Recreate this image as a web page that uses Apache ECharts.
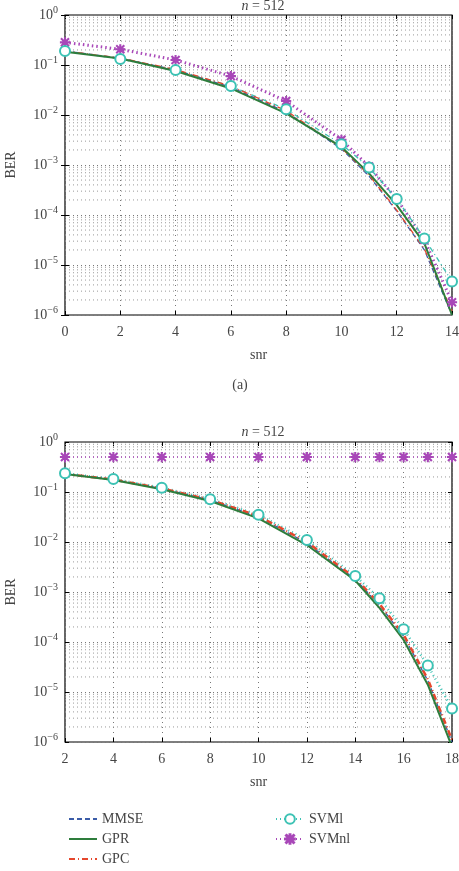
<!DOCTYPE html>
<html>
<head>
<meta charset="utf-8">
<script src="https://cdn.jsdelivr.net/npm/echarts@6/dist/echarts.min.js"></script>
<style>
  html, body { margin: 0; padding: 0; background: #fff; }
  #chart { width: 459px; height: 871px; }
</style>
</head>
<body>
<div id="chart"></div>
<script>
// chart (a): snr 0..14
var snrA = [0, 2, 4, 6, 8, 10, 11, 12, 13, 14];
var mmseA = [0.19, 0.137, 0.079, 0.036, 0.0115, 0.0021, 0.0006, 0.00012, 2.0e-5, 1.0e-6];
var gprA = [0.185, 0.135, 0.076, 0.034, 0.0108, 0.0023, 0.00068, 0.000158, 2.7e-5, 1.0e-6];
var gpcA = [0.19, 0.138, 0.081, 0.038, 0.0122, 0.0022, 0.00063, 0.000125, 2.1e-5, 1.2e-6];
var svmlA = [0.19, 0.132, 0.079, 0.038, 0.013, 0.0026, 0.00089, 0.00021, 3.4e-5, 4.7e-6];
var svmnlA = [0.284, 0.206, 0.126, 0.060, 0.019, 0.0032, 0.00093, 0.00021, 3.2e-5, 1.8e-6];

// chart (b): snr 2..18
var snrB = [2, 4, 6, 8, 10, 12, 14, 15, 16, 17, 18];
var mmseB = [0.23, 0.177, 0.117, 0.069, 0.032, 0.0095, 0.0018, 0.00055, 0.00013, 1.7e-5, 1.0e-6];
var gprB = [0.23, 0.174, 0.113, 0.066, 0.0297, 0.0087, 0.0017, 0.00048, 0.00011, 1.4e-5, 8e-7];
var gpcB = [0.23, 0.178, 0.118, 0.070, 0.033, 0.0100, 0.0019, 0.00058, 0.00014, 1.8e-5, 1.1e-6];
var svmlB = [0.236, 0.182, 0.122, 0.072, 0.035, 0.011, 0.0021, 0.00075, 0.00018, 3.4e-5, 4.7e-6];
var svmnlB = [0.5, 0.5, 0.5, 0.5, 0.5, 0.5, 0.5, 0.5, 0.5, 0.5, 0.5];

var titleText = '{i|n} = 512';
var legendLeft = ['MMSE', 'GPR', 'GPC'];
var legendRight = ['SVMl', 'SVMnl'];

var FONT = 'Liberation Serif';
var TXT = '#444';
var C_MMSE = '#3b5ca8', C_GPR = '#2e7d3c', C_GPC = '#e5472d', C_SVML = '#3cc2b4', C_SVMNL = '#a847b8';
var STAR = 'path://M9,0h2v20h-2zM0,9h20v2h-20zM2.7,1.3L18.7,17.3L17.3,18.7L1.3,2.7zM17.3,1.3L18.7,2.7L2.7,18.7L1.3,17.3z';

function zip(xs, ys) {
    return xs.map(function (x, i) { return [x, ys[i]]; });
}

function supLabel(v) {
    var e = Math.round(Math.log10(v));
    return '10{s|' + (e < 0 ? '\u2212' + (-e) : e) + '}';
}

// minor log grid (2..9 x 10^k), drawn as broken horizontal segments
function minorData(xmin, xmax) {
    var out = [];
    for (var k = -6; k < 0; k++) {
        for (var m = 2; m <= 9; m++) {
            var v = m * Math.pow(10, k);
            out.push([xmin, v], [xmax, v], [xmax, '-']);
        }
    }
    return out;
}

function xAxisFor(g, min, max, pos) {
    var bottom = pos === 'bottom';
    return {
        type: 'value', gridIndex: g, min: min, max: max, interval: 2, position: pos,
        name: bottom ? 'snr' : '', nameLocation: 'middle', nameGap: 33,
        nameTextStyle: {fontFamily: FONT, fontSize: 14, color: TXT},
        axisLine: {show: false},
        axisTick: {show: true, inside: true, length: 4, lineStyle: {color: '#000'}},
        axisLabel: {show: bottom, margin: 10, fontFamily: FONT, fontSize: 14, color: TXT},
        splitLine: {show: bottom, lineStyle: {color: '#777', type: [1, 4], width: 1}}
    };
}

function yAxisFor(g, pos) {
    var left = pos === 'left';
    return {
        type: 'log', logBase: 10, gridIndex: g, min: 1e-6, max: 1, position: pos,
        name: left ? 'BER' : '', nameLocation: 'middle', nameGap: 47,
        nameTextStyle: {fontFamily: FONT, fontSize: 14, color: TXT},
        axisLine: {show: false},
        axisTick: {show: true, inside: true, length: 4, lineStyle: {color: '#000'}},
        axisLabel: {
            show: left, margin: 7, fontFamily: FONT, fontSize: 14, color: TXT,
            formatter: supLabel,
            rich: {s: {fontFamily: FONT, fontSize: 10, color: TXT, padding: [0, 0, 9, 0]}}
        },
        splitLine: {show: left, lineStyle: {color: '#777', type: [1, 3], width: 1}}
    };
}

function minorSeries(g, xmin, xmax) {
    return {
        name: 'minor' + g, type: 'line', xAxisIndex: g * 2, yAxisIndex: g * 2,
        data: minorData(xmin, xmax), connectNulls: false,
        symbol: 'none', silent: true, animation: false, z: 1,
        lineStyle: {color: '#999', type: [1, 3], width: 1}
    };
}

function lineSeries(name, g, xs, ys, color, width, dash, symbol, size) {
    return {
        name: name, type: 'line', xAxisIndex: g * 2, yAxisIndex: g * 2,
        data: zip(xs, ys),
        symbol: symbol || 'none', symbolSize: size || 0, showSymbol: !!symbol,
        itemStyle: {color: color, borderColor: color, borderWidth: 1.2},
        lineStyle: {color: color, width: width, type: dash},
        animation: false, z: 5
    };
}

function legendItems(names) {
    return names.map(function (n) {
        var plain = n === 'MMSE' || n === 'GPR' || n === 'GPC';
        return plain ? {name: n, itemStyle: {opacity: 0}} : {name: n};
    });
}

var myChart = echarts.init(document.getElementById('chart'));
var option = {
    backgroundColor: '#fff',
    animation: false,
    title: [
        {text: titleText, left: 258, top: -6, textAlign: 'center',
            textStyle: {fontFamily: FONT, fontSize: 14, fontWeight: 'normal', color: TXT,
                rich: {i: {fontFamily: FONT, fontSize: 14, fontStyle: 'italic', color: TXT}}}},
        {text: '(a)', left: 235, top: 373, textAlign: 'center',
            textStyle: {fontFamily: FONT, fontSize: 14, fontWeight: 'normal', color: TXT}},
        {text: titleText, left: 258, top: 420, textAlign: 'center',
            textStyle: {fontFamily: FONT, fontSize: 14, fontWeight: 'normal', color: TXT,
                rich: {i: {fontFamily: FONT, fontSize: 14, fontStyle: 'italic', color: TXT}}}}
    ],
    grid: [
        {left: 65, top: 15, width: 387, height: 300, show: true, borderColor: '#000', borderWidth: 1.2,
            containLabel: false, outerBoundsMode: 'none'},
        {left: 65, top: 442, width: 387, height: 300, show: true, borderColor: '#000', borderWidth: 1.2,
            containLabel: false, outerBoundsMode: 'none'}
    ],
    xAxis: [
        xAxisFor(0, 0, 14, 'bottom'), xAxisFor(0, 0, 14, 'top'),
        xAxisFor(1, 2, 18, 'bottom'), xAxisFor(1, 2, 18, 'top')
    ],
    yAxis: [
        yAxisFor(0, 'left'), yAxisFor(0, 'right'),
        yAxisFor(1, 'left'), yAxisFor(1, 'right')
    ],
    legend: [
        {data: legendItems(legendLeft), orient: 'vertical', left: 63, top: 807, height: 70,
            itemWidth: 28, itemHeight: 12, itemGap: 6,
            textStyle: {fontFamily: FONT, fontSize: 14, color: TXT}},
        {data: legendItems(legendRight), orient: 'vertical', left: 270, top: 807, height: 70,
            itemWidth: 28, itemHeight: 12, itemGap: 6,
            textStyle: {fontFamily: FONT, fontSize: 14, color: TXT}}
    ],
    series: [
        minorSeries(0, 0, 14),
        minorSeries(1, 2, 18),
        // bottom chart first so the legend icons use its thinner styles
        lineSeries('SVMnl', 1, snrB, svmnlB, C_SVMNL, 1.5, [1, 3], STAR, 9),
        lineSeries('SVMl', 1, snrB, svmlB, C_SVML, 2.5, [1, 3], 'emptyCircle', 10),
        lineSeries('MMSE', 1, snrB, mmseB, C_MMSE, 1.3, [5, 3]),
        lineSeries('GPC', 1, snrB, gpcB, C_GPC, 2.5, [6, 3, 1, 3]),
        lineSeries('GPR', 1, snrB, gprB, C_GPR, 2),
        lineSeries('SVMnl', 0, snrA, svmnlA, C_SVMNL, 3, [1.5, 3], STAR, 9),
        lineSeries('SVMl', 0, snrA, svmlA, C_SVML, 1.3, [5, 3, 1, 3], 'emptyCircle', 10),
        lineSeries('MMSE', 0, snrA, mmseA, C_MMSE, 1.3, [5, 3]),
        lineSeries('GPC', 0, snrA, gpcA, C_GPC, 1.3, [6, 3, 1, 3]),
        lineSeries('GPR', 0, snrA, gprA, C_GPR, 2)
    ]
};
myChart.setOption(option);
</script>
</body>
</html>
